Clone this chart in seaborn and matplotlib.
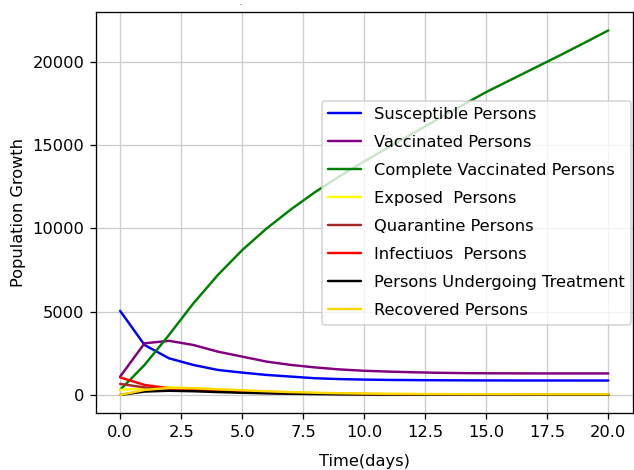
import pandas as pd
import matplotlib
matplotlib.use("Agg")
import matplotlib.pyplot as plt
import seaborn as sns

# Values (one point per day)
days = list(range(21))
susceptible = [5050, 3000, 2200, 1800, 1500, 1340, 1200, 1100, 1000, 950, 920,
               900, 890, 880, 875, 870, 868, 866, 865, 864, 863]
vaccinated = [1100, 3100, 3250, 3000, 2600, 2300, 2000, 1800, 1650, 1530, 1450,
              1400, 1360, 1330, 1310, 1300, 1295, 1292, 1290, 1290, 1290]
complete_vacc = [300, 1800, 3600, 5500, 7200, 8700, 10000, 11150, 12200, 13150, 14030,
                 14880, 15720, 16560, 17390, 18200, 18930, 19660, 20390, 21140, 21900]
exposed = [300, 400, 450, 400, 330, 260, 200, 150, 110, 80, 60,
           50, 45, 40, 38, 36, 35, 34, 33, 33, 33]
quarantine = [660, 450, 350, 280, 220, 170, 130, 100, 80, 60, 50,
              40, 35, 30, 28, 26, 25, 24, 23, 23, 23]
infectious = [1050, 600, 400, 300, 220, 160, 120, 90, 70, 55, 45,
              38, 32, 28, 25, 23, 22, 21, 20, 20, 20]
treatment = [0, 200, 250, 220, 170, 130, 95, 70, 50, 38, 30,
             24, 20, 17, 15, 14, 13, 12, 12, 12, 12]
recovered = [0, 300, 420, 400, 340, 280, 220, 170, 130, 100, 80,
             65, 55, 48, 44, 41, 40, 39, 38, 38, 38]

series = [
    ("Susceptible Persons", susceptible, "blue"),
    ("Vaccinated Persons", vaccinated, "purple"),
    ("Complete Vaccinated Persons", complete_vacc, "green"),
    ("Exposed  Persons", exposed, "yellow"),
    ("Quarantine Persons", quarantine, "brown"),
    ("Infectiuos  Persons", infectious, "red"),
    ("Persons Undergoing Treatment", treatment, "black"),
    ("Recovered Persons", recovered, "gold"),
]

sns.set_style("ticks", {"axes.edgecolor": "black", "xtick.color": "black",
                        "ytick.color": "black", "text.color": "black",
                        "axes.labelcolor": "black"})
plt.rcParams['font.family'] = ['DejaVu Sans']

fig, ax = plt.subplots(figsize=(634 / 117, 470 / 117), dpi=117)
fig.subplots_adjust(left=0.151, right=0.998, top=0.974, bottom=0.121)

for label, values, color in series:
    df = pd.DataFrame({"day": days, "value": values})
    sns.lineplot(data=df, x="day", y="value", color=color, label=label, ax=ax)

ax.grid(True)
ax.set_xlabel("Time(days)", labelpad=9)
ax.set_ylabel("Population Growth")
ax.legend(loc="center right", labelspacing=0.8, borderaxespad=0.1)
# stray title dot at the top of the original
fig.text(0.379, 0.999, ".", ha="center", va="top", fontsize=4)

fig.savefig("out.png", dpi=117)
